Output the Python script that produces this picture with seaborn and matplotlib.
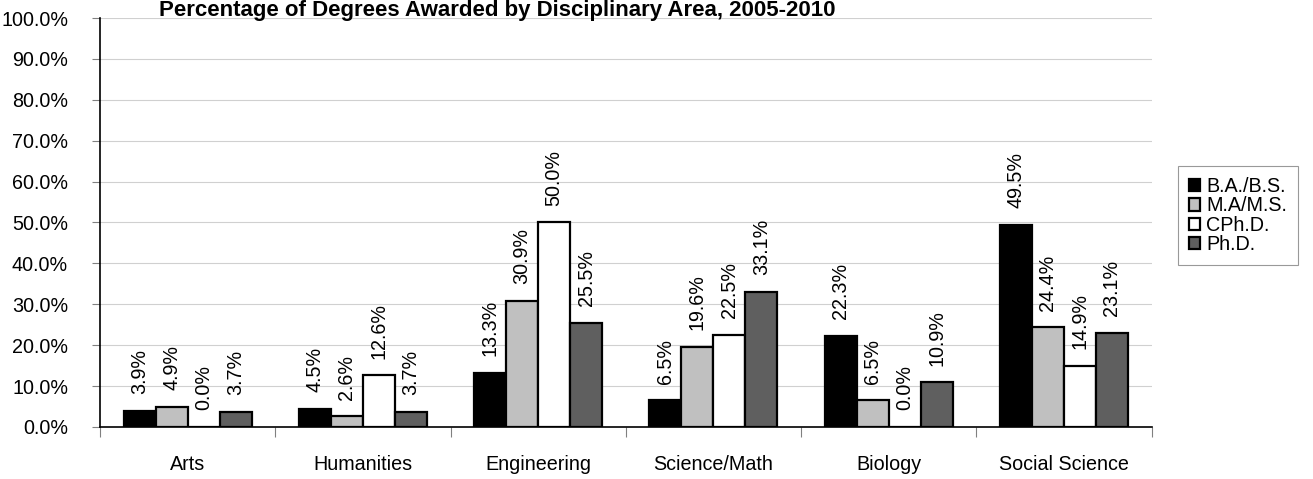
import pandas as pd
import numpy as np
import matplotlib
matplotlib.use("Agg")
import matplotlib.pyplot as plt
import seaborn as sns

# Data
areas = ["Arts", "Humanities", "Engineering", "Science/Math", "Biology", "Social Science"]
degrees = ["B.A./B.S.", "M.A/M.S.", "CPh.D.", "Ph.D."]
ba_bs = [3.9, 4.5, 13.3, 6.5, 22.3, 49.5]
ma_ms = [4.9, 2.6, 30.9, 19.6, 6.5, 24.4]
cphd = [0.0, 12.6, 50.0, 22.5, 0.0, 14.9]
phd = [3.7, 3.7, 25.5, 33.1, 10.9, 23.1]
colors = ["#000000", "#c0c0c0", "#ffffff", "#5f5f5f"]

df = pd.DataFrame({"Area": areas, degrees[0]: ba_bs, degrees[1]: ma_ms,
                   degrees[2]: cphd, degrees[3]: phd})
long = df.melt(id_vars="Area", var_name="Degree", value_name="Pct")

sns.set_style("white")
plt.rcParams['font.family'] = ['Liberation Sans', 'DejaVu Sans']
plt.rcParams['text.color'] = 'black'
plt.rcParams['xtick.color'] = 'black'
plt.rcParams['ytick.color'] = 'black'
fs = 14.2

fig = plt.figure(figsize=(13.13, 4.79), dpi=100)
ax = fig.add_axes([0.0762, 0.1086, 0.8008, 0.8538])

sns.barplot(data=long, x="Area", y="Pct", hue="Degree", order=areas,
            hue_order=degrees, palette=colors, width=0.73,
            edgecolor="black", linewidth=1.6, saturation=1, ax=ax)

for cont in ax.containers:
    ax.bar_label(cont, labels=[f"{v:.1f}%" for v in cont.datavalues],
                 rotation=90, padding=12, fontsize=fs)

ax.set_ylim(0, 100)
ax.set_yticks(np.arange(0, 101, 10))
ax.set_yticklabels([f"{v:.1f}%" for v in range(0, 101, 10)], fontsize=fs)
ax.yaxis.grid(True, color="#d0d0d0", linewidth=0.8)
ax.set_axisbelow(True)
ax.tick_params(axis="y", length=6, width=0.8, color="#808080", left=True, pad=17)

ax.set_xlim(-0.5, 5.5)
ax.set_xticks(range(len(areas)))
ax.set_xticklabels(areas, fontsize=fs)
ax.tick_params(axis="x", length=0, pad=20)
ax.set_xticks(np.arange(-0.5, 6, 1), minor=True)
ax.tick_params(axis="x", which="minor", length=7, width=0.8, color="#808080", bottom=True)

ax.set_xlabel("")
ax.set_ylabel("")
for s in ["top", "right"]:
    ax.spines[s].set_visible(False)
for s in ["left", "bottom"]:
    ax.spines[s].set_color("black")
    ax.spines[s].set_linewidth(1.2)

leg = ax.legend(title=None, loc="center left", bbox_to_anchor=(0.897, 0.55),
                bbox_transform=fig.transFigure, fontsize=fs, borderaxespad=0,
                handlelength=0.6, handleheight=0.6, handletextpad=0.3,
                labelspacing=0.02, fancybox=False, frameon=True, borderpad=0.55)
leg.get_frame().set_edgecolor("#808080")
leg.get_frame().set_linewidth(0.8)

fig.text(0.379, 1.0, "Percentage of Degrees Awarded by Disciplinary Area, 2005-2010",
         ha="center", va="top", fontsize=16, fontweight="bold")

fig.savefig("out.png", dpi=100)
